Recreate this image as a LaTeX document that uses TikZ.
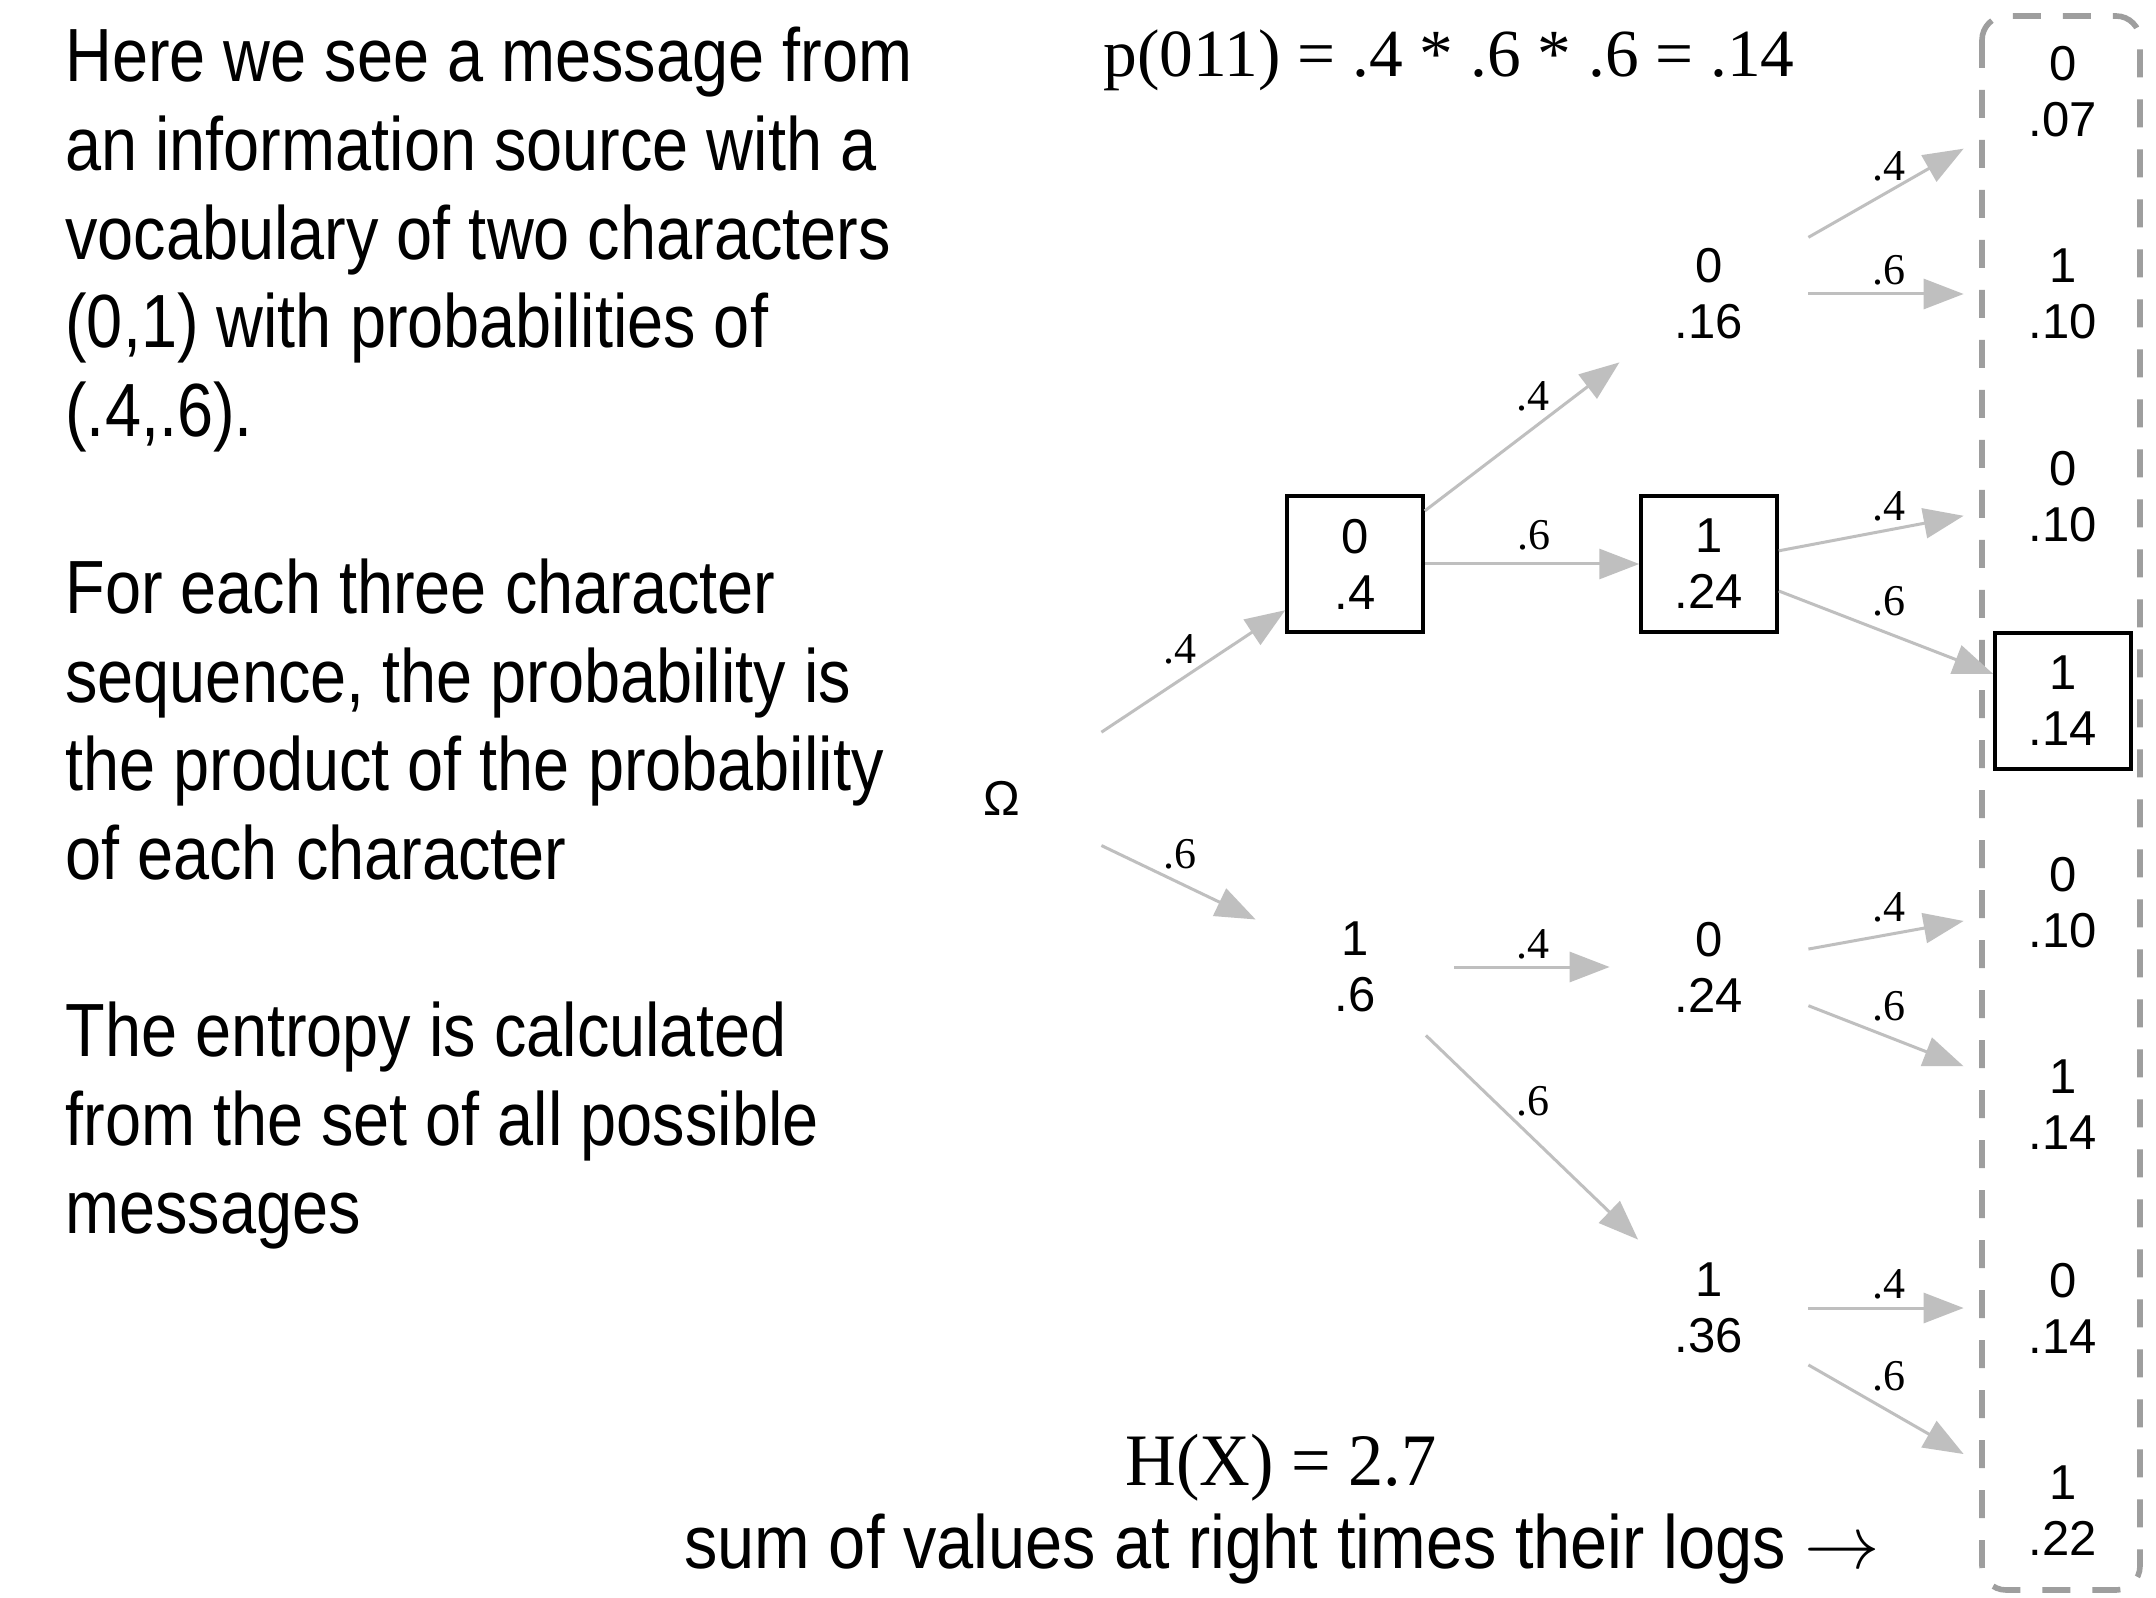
\RequirePackage{fix-cm}
\documentclass[tikz,border=0pt]{standalone}
\usepackage{fontspec}
\setmainfont{Liberation Serif}
\newfontfamily\bodyfont[FakeStretch=0.86]{Liberation Sans}
\newfontfamily\sumfont[FakeStretch=0.885]{Liberation Sans}
\newfontfamily\nodefont{Liberation Sans}
\newfontfamily\seriffont{Liberation Serif}
\newfontfamily\hxfont[FakeStretch=0.95]{Liberation Serif}
\usetikzlibrary{arrows.meta}
\definecolor{arrowgray}{HTML}{BFBFBF}
\definecolor{dashgray}{HTML}{9E9E9E}
\begin{document}
\begin{tikzpicture}[x=0.5pt,y=-0.5pt,
  txt/.style={font=\bodyfont\fontsize{37.7}{44.3}\selectfont, anchor=base west, inner sep=0pt},
  leaf/.style={font=\nodefont\fontsize{24.5}{28}\selectfont, align=center, inner sep=0pt, minimum width=99pt, minimum height=68pt},
  boxnode/.style={leaf, draw=black, line width=1.75pt, minimum width=68pt, minimum height=68pt},
  edgelab/.style={font=\seriffont\fontsize{22}{24}\selectfont, anchor=base, inner sep=0pt},
  arr/.style={draw=arrowgray, line width=1.5pt, -{Triangle[length=20pt,width=15pt]}},
]
\useasboundingbox (0,0) rectangle (2156,1598);
\fill[white] (0,0) rectangle (2156,1598);

% left text
\node[txt] (t1) at (65,82) {Here we see a message from};
\node[txt] (t2) at (65,170.6) {an information source with a};
\node[txt] (t3) at (65,259.2) {vocabulary of two characters};
\node[txt] (t4) at (65,347.8) {(0,1) with probabilities of};
\node[txt] (t5) at (65,436.4) {(.4,.6).};
\node[txt] (t6) at (65,613.6) {For each three character};
\node[txt] (t7) at (65,702.2) {sequence, the probability is};
\node[txt] (t8) at (65,790.8) {the product of the probability};
\node[txt] (t9) at (65,879.4) {of each character};
\node[txt] (t10) at (65,1056.6) {The entropy is calculated};
\node[txt] (t11) at (65,1145.2) {from the set of all possible};
\node[txt] (t12) at (65,1233.8) {messages};

% formulas
\node[anchor=base west, inner sep=0pt, font=\seriffont\fontsize{33.7}{36}\selectfont] (pf) at (1103,77) {p(011) = .4 * .6 * .6 = .14};
\node[anchor=base west, inner sep=0pt, font=\hxfont\fontsize{37}{40}\selectfont] (hx) at (1125,1485) {H(X) = 2.7};
\node[txt, font=\sumfont\fontsize{37.7}{44.3}\selectfont] (sum) at (684,1568) {sum of values at right times their logs $\rightarrow$};

% dashed frame
\draw[dashgray, line width=2.8pt, dash pattern=on 14pt off 11pt, rounded corners=12pt] (1982,16) rectangle (2140,1590);

% tree nodes
\node[leaf] (om) at (1002,798) {Ω};
\node[boxnode] (n0) at (1355,564) {0\\.4};
\node[leaf] (n1) at (1355,967) {1\\.6};
\node[leaf] (n00) at (1709,294) {0\\.16};
\node[boxnode] (n01) at (1709,564) {1\\.24};
\node[leaf] (n10) at (1709,967) {0\\.24};
\node[leaf] (n11) at (1709,1308) {1\\.36};
\node[leaf] (r000) at (2063,92) {0\\.07};
\node[leaf] (r001) at (2063,294) {1\\.10};
\node[leaf] (r010) at (2063,497) {0\\.10};
\node[boxnode] (r011) at (2063,701) {1\\.14};
\node[leaf] (r100) at (2063,903) {0\\.10};
\node[leaf] (r101) at (2063,1105) {1\\.14};
\node[leaf] (r110) at (2063,1308) {0\\.14};
\node[leaf] (r111) at (2063,1511) {1\\.22};

% connectors
\draw[arr] (om) -- (n0);
\draw[arr] (om) -- (n1);
\draw[arr] (n0) -- (n00);
\draw[arr] (n0) -- (n01);
\draw[arr] (n1) -- (n10);
\draw[arr] (n1) -- (n11);
\draw[arr] (n00) -- (r000);
\draw[arr] (n00) -- (r001);
\draw[arr] (n01) -- (r010);
\draw[arr] (n01) -- (r011);
\draw[arr] (n10) -- (r100);
\draw[arr] (n10) -- (r101);
\draw[arr] (n11) -- (r110);
\draw[arr] (n11) -- (r111);

% edge labels
\node[edgelab] (l1) at (1180,663) {.4};
\node[edgelab] (l2) at (1180,868) {.6};
\node[edgelab] (l3) at (1533,411) {.4};
\node[edgelab] (l4) at (1534,550) {.6};
\node[edgelab] (l5) at (1889,181) {.4};
\node[edgelab] (l6) at (1889,285) {.6};
\node[edgelab] (l7) at (1889,521) {.4};
\node[edgelab] (l8) at (1889,616) {.6};
\node[edgelab] (l9) at (1533,958) {.4};
\node[edgelab] (l10) at (1533,1115) {.6};
\node[edgelab] (l11) at (1889,921) {.4};
\node[edgelab] (l12) at (1889,1020) {.6};
\node[edgelab] (l13) at (1889,1298) {.4};
\node[edgelab] (l14) at (1889,1390) {.6};
\end{tikzpicture}
\end{document}
